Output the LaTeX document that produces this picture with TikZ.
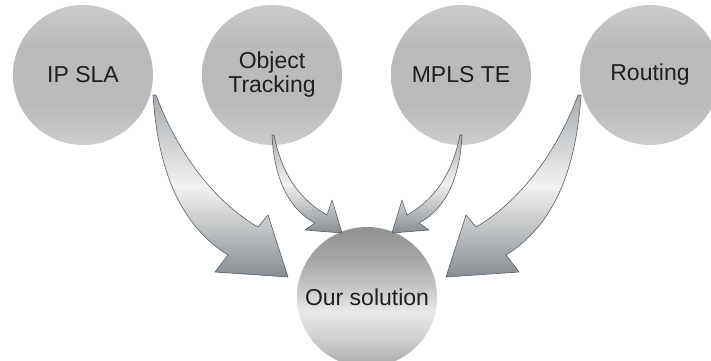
\documentclass[tikz,border=0pt]{standalone}
\usepackage{fontspec}
\setmainfont{Liberation Sans}
\definecolor{ctA}{RGB}{202,202,202}
\definecolor{ctB}{RGB}{186,186,186}
\definecolor{ctC}{RGB}{204,204,204}
\definecolor{csA}{RGB}{168,168,168}
\definecolor{csB}{RGB}{210,210,210}
\definecolor{csC}{RGB}{232,232,232}
\definecolor{csD}{RGB}{200,200,200}
\definecolor{csE}{RGB}{165,165,165}
\definecolor{csF}{RGB}{145,145,145}
\definecolor{arrtop}{RGB}{168,172,176}
\definecolor{arrmid}{RGB}{242,242,240}
\definecolor{arrbot}{RGB}{136,141,146}
\definecolor{arrline}{RGB}{85,95,105}
\pgfdeclareverticalshading{circtop}{100bp}{color(0bp)=(ctC); color(25bp)=(ctC); color(40bp)=(ctB); color(60bp)=(ctB); color(75bp)=(ctA); color(100bp)=(ctA)}
\pgfdeclareverticalshading{circsol}{100bp}{color(0bp)=(csA); color(25bp)=(csA); color(36bp)=(csB); color(45bp)=(csC); color(53bp)=(csD); color(64bp)=(csE); color(75bp)=(csF); color(100bp)=(csF)}
\tikzset{
  bubble/.style={circle, minimum size=140pt, inner sep=0pt, shade, shading=circtop,
    font=\fontsize{23}{24}\selectfont, align=center, text=black!88},
  bigarrow/.style={draw=arrline, line width=0.6pt, line join=round,
    top color=arrtop, bottom color=arrbot, middle color=arrmid}
}
\begin{document}
\begin{tikzpicture}[x=1pt, y=-1pt]
\useasboundingbox (0,0) rectangle (711,360);
\clip (0,0) rectangle (711,360);
\node[bubble] (ipsla) at (83,75) {IP SLA};
\node[bubble] (objtrack) at (272,75) {Object\\Tracking};
\node[bubble] (mpls) at (461,75) {MPLS TE};
\node[bubble] (routing) at (650,75) {Routing};
\node[bubble, shading=circsol] (sol) at (367,297) {Our solution};
% arrows
\path[bigarrow] (153,95) .. controls (158,170) and (180,225) .. (228,255) -- (215,272) -- (288,277) -- (268,215) -- (258,227) .. controls (220,205) and (180,160) .. (156,95) -- cycle;
\path[bigarrow] (272,135) .. controls (274,180) and (290,210) .. (315,223) -- (305,230) -- (342,233) -- (332,200) -- (327,215) .. controls (300,200) and (282,175) .. (274,135) -- cycle;
\begin{scope}[xshift=734pt, xscale=-1]
\path[bigarrow] (153,95) .. controls (158,170) and (180,225) .. (228,255) -- (215,272) -- (288,277) -- (268,215) -- (258,227) .. controls (220,205) and (180,160) .. (156,95) -- cycle;
\path[bigarrow] (272,135) .. controls (274,180) and (290,210) .. (315,223) -- (305,230) -- (342,233) -- (332,200) -- (327,215) .. controls (300,200) and (282,175) .. (274,135) -- cycle;
\end{scope}
\end{tikzpicture}
\end{document}
